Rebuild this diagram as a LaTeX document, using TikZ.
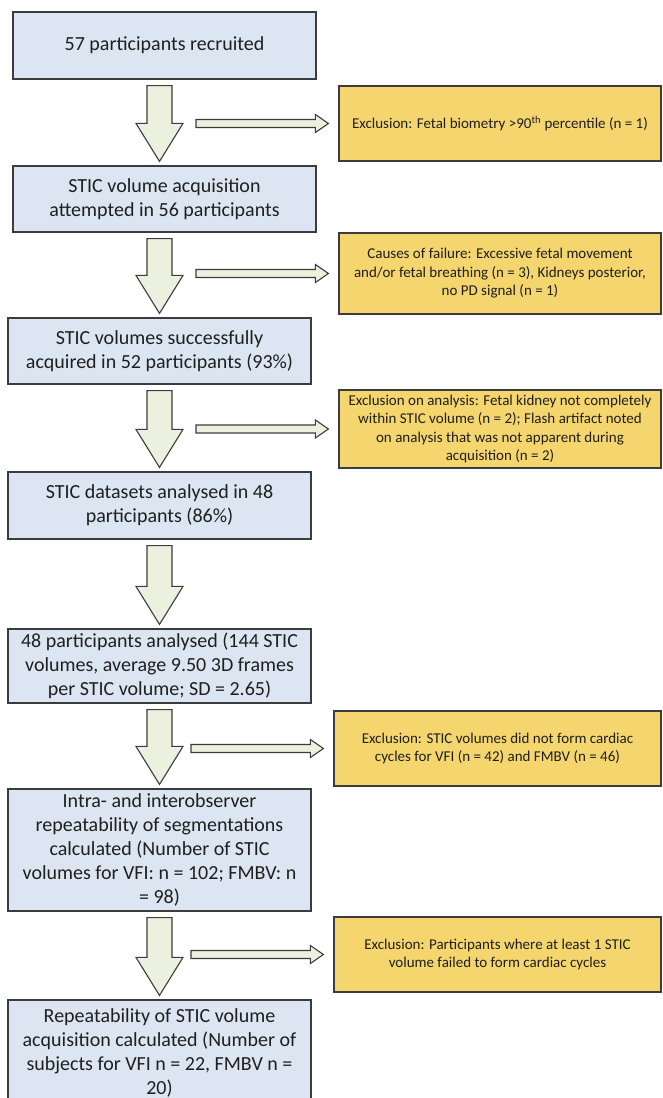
\documentclass[tikz,border=0pt]{standalone}
\usepackage{fontspec}
\setmainfont{Carlito}
\usetikzlibrary{calc}
\definecolor{boxblue}{HTML}{DCE6F2}
\definecolor{boxyellow}{HTML}{F4D56E}
\definecolor{arrowgreen}{HTML}{EBF1DE}
\definecolor{edgegray}{HTML}{3C3C3C}
\newcommand{\downblock}[2]{%
  \draw[bigarrow] let \p1=(ax |- #1.south), \p2=(ax |- #2.north) in
  (\x1-12.5pt,\y1-6pt) -- (\x1+12.5pt,\y1-6pt) -- (\x1+12.5pt,\y2+42pt)
  -- (\x1+23.5pt,\y2+42pt) -- (\x1,\y2+4pt) -- (\x1-23.5pt,\y2+42pt)
  -- (\x1-12.5pt,\y2+42pt) -- cycle;}
\newcommand{\sideblock}[2]{%
  \draw[sidearrow] let \p1=(#1), \p2=(#2.west) in
  (\x1,\y2+4pt) -- (\x2-23pt,\y2+4pt) -- (\x2-23pt,\y2+9pt) -- (\x2-10pt,\y2)
  -- (\x2-23pt,\y2-9pt) -- (\x2-23pt,\y2-4pt) -- (\x1,\y2-4pt) -- cycle;}
\begin{document}
\begin{tikzpicture}[x=1pt,y=-1pt,
  mainbox/.style={draw=edgegray, line width=1.2pt, fill=boxblue, rectangle,
    inner sep=0pt, minimum width=303pt, align=center,
    font=\fontsize{20}{24}\selectfont, text=black!88},
  exclbox/.style={draw=edgegray, line width=1.2pt, fill=boxyellow, rectangle,
    inner sep=0pt, align=center, font=\fontsize{15}{18.5}\selectfont, text=black!88},
  bigarrow/.style={draw=edgegray, line width=1.1pt, fill=arrowgreen, line join=miter},
  sidearrow/.style={draw=edgegray, line width=1.1pt, fill=arrowgreen, line join=miter}]
\useasboundingbox (0,0) rectangle (662,1098);
\fill[white] (0,0) rectangle (662,1098);
\coordinate (ax) at (159.5,0);

% main boxes
\node[mainbox, minimum height=67pt] (b1) at (164.5,45.5) {57 participants recruited};
\node[mainbox, minimum height=66pt] (b2) at (164.5,199) {STIC volume acquisition\\attempted in 56 participants};
\node[mainbox, minimum height=66pt] (b3) at (159.5,351) {STIC volumes successfully\\acquired in 52 participants (93\%)};
\node[mainbox, minimum height=67pt] (b4) at (159.5,505.5) {STIC datasets analysed in 48\\participants (86\%)};
\node[mainbox, minimum height=74pt] (b5) at (159.5,666) {48 participants analysed (144 STIC\\volumes, average 9.50 3D frames\\per STIC volume; SD = 2.65)};
\node[mainbox, minimum height=122pt] (b6) at (159.5,850) {Intra- and interobserver\\repeatability of segmentations\\calculated (Number of STIC\\volumes for VFI: n = 102; FMBV: n\\= 98)};
\node[mainbox, minimum height=106pt] (b7) at (159.5,1053) {Repeatability of STIC volume\\acquisition calculated (Number of\\subjects for VFI n = 22, FMBV n =\\20)};

% exclusion boxes
\node[exclbox, minimum width=322pt, minimum height=75pt] (e1) at (500,123.5) {Exclusion: Fetal biometry >90\textsuperscript{th} percentile (n = 1)};
\node[exclbox, minimum width=322pt, minimum height=81pt] (e2) at (500,273.5) {Causes of failure: Excessive fetal movement\\and/or fetal breathing (n = 3), Kidneys posterior,\\no PD signal (n = 1)};
\node[exclbox, minimum width=322pt, minimum height=78pt] (e3) at (500,429) {Exclusion on analysis: Fetal kidney not completely\\within STIC volume (n = 2); Flash artifact noted\\on analysis that was not apparent during\\acquisition (n = 2)};
\node[exclbox, minimum width=327pt, minimum height=75pt] (e4) at (497.5,748.5) {Exclusion: STIC volumes did not form cardiac\\cycles for VFI (n = 42) and FMBV (n = 46)};
\node[exclbox, minimum width=327pt, minimum height=75pt] (e5) at (497.5,954.5) {Exclusion: Participants where at least 1 STIC\\volume failed to form cardiac cycles};

% down arrows
\downblock{b1}{b2}
\downblock{b2}{b3}
\downblock{b3}{b4}
\downblock{b4}{b5}
\downblock{b5}{b6}
\downblock{b6}{b7}

% side arrows
\coordinate (s1) at (196,123);
\coordinate (s2) at (196,273);
\coordinate (s3) at (196,428);
\coordinate (s5) at (191,748);
\coordinate (s6) at (191,954);
\sideblock{s1}{e1}
\sideblock{s2}{e2}
\sideblock{s3}{e3}
\sideblock{s5}{e4}
\sideblock{s6}{e5}
\end{tikzpicture}
\end{document}
